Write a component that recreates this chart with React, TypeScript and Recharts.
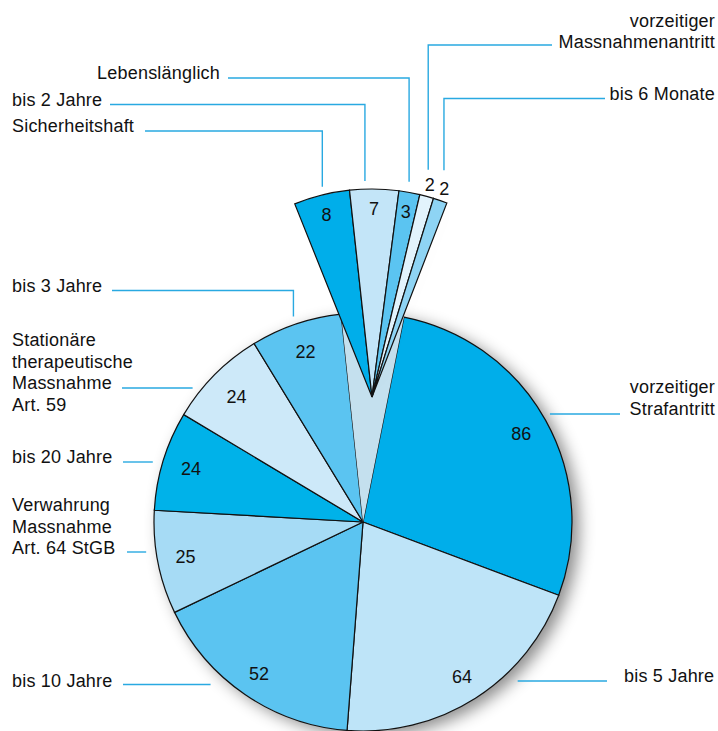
import React from 'react';
import { PieChart, Pie, Cell } from 'recharts';

// ---------- data ----------
const mainNames: string[][] = [
  ['vorzeitiger', 'Strafantritt'],
  ['bis 5 Jahre'],
  ['bis 10 Jahre'],
  ['Verwahrung', 'Massnahme', 'Art. 64 StGB'],
  ['bis 20 Jahre'],
  ['Stationäre', 'therapeutische', 'Massnahme', 'Art. 59'],
  ['bis 3 Jahre'],
  [],
];
// last entry = the slot left open by the pulled-out slices
const mainValues = [86, 64, 52, 25, 24, 24, 22, 15];
const mainColors = ['#00aeea', '#bee4f8', '#5bc4f1', '#a6dbf5', '#00b2e9', '#cde9f9', '#5bc4f1', '#c4e0ee'];

const fanNames: string[][] = [
  ['Sicherheitshaft'],
  ['bis 2 Jahre'],
  ['Lebenslänglich'],
  ['vorzeitiger', 'Massnahmenantritt'],
  ['bis 6 Monate'],
];
const fanValues = [8, 7, 3, 2, 2];
const fanColors = ['#00aeea', '#c3e5f8', '#5bc4f1', '#e2f3fc', '#8ed4f4'];

// ---------- layout ----------
const FONT = '"Liberation Sans", Arial, Helvetica, sans-serif';
const LINE = '#29a9e1';
const FS = 18;
const LH = 21.5;
const MAIN = { cx: 363, cy: 522, r: 209, start: 78.7 };
const FAN = { cx: 372, cy: 397, r: 208, start: 111.8, end: 68.9 };
const SHADOW_CSS = 'drop-shadow(7px 5px 8px rgba(0,0,0,0.45))';

type Lay = {
  x: number; anchor: 'start' | 'end'; y: number; lineY: number; outerX: number;
  gap?: number; elbow?: boolean; reach?: number; shift?: number; valR: number;
};
const mainLayout: (Lay | null)[] = [
  { x: 715, anchor: 'end', y: 393, lineY: 414, outerX: 620, gap: 8, valR: 181 },
  { x: 624, anchor: 'start', y: 682, lineY: 681, outerX: 607, gap: 19, valR: 184 },
  { x: 12, anchor: 'start', y: 687, lineY: 684.5, outerX: 123, gap: 21, valR: 184 },
  { x: 12, anchor: 'start', y: 511, lineY: 552, outerX: 127, gap: 10, valR: 181 },
  { x: 12, anchor: 'start', y: 463, lineY: 462, outerX: 123, gap: 10, valR: 180 },
  { x: 12, anchor: 'start', y: 346, lineY: 388, outerX: 122, gap: 10, valR: 178 },
  { x: 12, anchor: 'start', y: 292, lineY: 290.5, outerX: 112, elbow: true, reach: 8, shift: 0, valR: 179 },
  null,
];
const fanLayout: Lay[] = [
  { x: 12, anchor: 'start', y: 132, lineY: 131, outerX: 145, elbow: true, reach: 8, shift: 0.7, valR: 188 },
  { x: 12, anchor: 'start', y: 106, lineY: 104.5, outerX: 110, elbow: true, reach: 8, shift: -2.5, valR: 188 },
  { x: 220, anchor: 'end', y: 79, lineY: 78, outerX: 228, elbow: true, reach: 10.5, shift: -0.6, valR: 188 },
  { x: 715, anchor: 'end', y: 26.5, lineY: 45, outerX: 552, elbow: true, reach: 26, shift: -1.35, valR: 220 },
  { x: 715, anchor: 'end', y: 100, lineY: 98.5, outerX: 605, elbow: true, reach: 30, shift: -1.55, valR: 220 },
];

const mainData = mainValues.map((v, i) => ({ name: mainNames[i].join(' '), value: v }));
const fanData = fanValues.map((v, i) => ({ name: fanNames[i].join(' '), value: v }));
const one = [{ name: 'shadow', value: 1 }];

const RAD = Math.PI / 180;
const polar = (cx: number, cy: number, r: number, angle: number) => ({
  x: cx + r * Math.cos(-angle * RAD),
  y: cy + r * Math.sin(-angle * RAD),
});

function makeLabel(layout: (Lay | null)[], names: string[][]) {
  return (props: any) => {
    const { cx, cy, outerRadius, midAngle, index, value } = props;
    const lay = layout[index];
    if (!lay) return null;
    const vp = polar(cx, cy, lay.valR, midAngle);
    let path: string;
    if (lay.elbow) {
      const a = polar(cx, cy, outerRadius + (lay.reach || 0), midAngle - (lay.shift || 0));
      path = `M${lay.outerX},${lay.lineY}H${a.x}V${a.y}`;
    } else {
      const dy = lay.lineY - cy;
      const half = Math.sqrt(Math.max(0, outerRadius * outerRadius - dy * dy));
      const right = lay.outerX > cx;
      const edge = right ? cx + half + (lay.gap || 0) : cx - half - (lay.gap || 0);
      path = `M${lay.outerX},${lay.lineY}H${edge}`;
    }
    return (
      <g key={`lab-${index}`}>
        <text x={vp.x} y={vp.y} textAnchor="middle" dominantBaseline="central"
          fontFamily={FONT} fontSize={FS} fill="#111">{value}</text>
        <path d={path} stroke={LINE} strokeWidth={1.4} fill="none" />
        <text x={lay.x} y={lay.y} textAnchor={lay.anchor} fontFamily={FONT}
          fontSize={FS} letterSpacing={0.2} fill="#111">
          {names[index].map((t, k) => (
            <tspan key={k} x={lay.x} dy={k === 0 ? 0 : LH}>{t}</tspan>
          ))}
        </text>
      </g>
    );
  };
}

export default function App() {
  return (
    <div style={{ position: 'absolute', left: 0, top: 0, background: '#fff' }}>
      <PieChart width={718} height={731} margin={{ top: 0, right: 0, bottom: 0, left: 0 }}>
        {/* main pie shadow */}
        <Pie data={one} dataKey="value" cx={MAIN.cx} cy={MAIN.cy} outerRadius={MAIN.r}
          startAngle={0} endAngle={360} stroke="none" isAnimationActive={false} label={false}>
          <Cell fill="#fff" style={{ filter: SHADOW_CSS }} />
        </Pie>
        {/* main pie */}
        <Pie data={mainData} dataKey="value" cx={MAIN.cx} cy={MAIN.cy} outerRadius={MAIN.r}
          startAngle={MAIN.start} endAngle={MAIN.start - 360} stroke="#111" strokeWidth={1.2}
          isAnimationActive={false} labelLine={false} label={makeLabel(mainLayout, mainNames)}>
          {mainData.map((d, i) => (
            <Cell key={i} fill={mainColors[i]} stroke={i === mainData.length - 1 ? 'none' : '#111'} />
          ))}
        </Pie>
        {/* fan shadow */}
        <Pie data={one} dataKey="value" cx={FAN.cx} cy={FAN.cy} outerRadius={FAN.r}
          startAngle={FAN.start} endAngle={FAN.end} stroke="none" isAnimationActive={false} label={false}>
          <Cell fill="rgba(0,0,0,0.01)" style={{ filter: SHADOW_CSS }} />
        </Pie>
        {/* pulled-out fan */}
        <Pie data={fanData} dataKey="value" cx={FAN.cx} cy={FAN.cy} outerRadius={FAN.r}
          startAngle={FAN.start} endAngle={FAN.end} stroke="#111" strokeWidth={1.2}
          isAnimationActive={false} labelLine={false} label={makeLabel(fanLayout, fanNames)}>
          {fanData.map((d, i) => (
            <Cell key={i} fill={fanColors[i]} />
          ))}
        </Pie>
      </PieChart>
    </div>
  );
}
